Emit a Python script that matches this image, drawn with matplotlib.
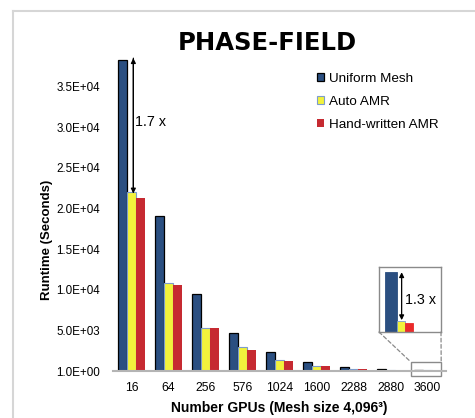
import matplotlib
matplotlib.use("Agg")
import matplotlib.pyplot as plt
from matplotlib.patches import Rectangle, ConnectionPatch
from matplotlib.lines import Line2D
import numpy as np

plt.rcParams['font.family'] = ['Liberation Sans', 'DejaVu Sans']

# data
gpus = ["16", "64", "256", "576", "1024", "1600", "2288", "2880", "3600"]
uniform_mesh = [38300, 19100, 9480, 4680, 2340, 1110, 500, 210, 160]
auto_amr = [22000, 10840, 5300, 2950, 1350, 620, 300, 140, 123]
hand_amr = [21300, 10590, 5250, 2590, 1230, 600, 200, 130, 121]
series_names = ["Uniform Mesh", "Auto AMR", "Hand-written AMR"]
ytick_vals = [0, 5000, 10000, 15000, 20000, 25000, 30000, 35000]
ytick_labels = ["1.0E+00", "5.0E+03", "1.0E+04", "1.5E+04", "2.0E+04",
                "2.5E+04", "3.0E+04", "3.5E+04"]

c_blue = "#2b4f81"
c_yellow = "#f2f23c"
c_red = "#c62a31"
W, H = 475, 418

fig = plt.figure(figsize=(4.75, 4.18), dpi=100)

# light frame around the chart area
fig.add_artist(Line2D([13 / W, 1.0], [1 - 11 / H, 1 - 11 / H], color="#d6d6d6", lw=1.5))
fig.add_artist(Line2D([13 / W, 13 / W], [0.0, 1 - 11 / H], color="#d6d6d6", lw=1.5))

ax = fig.add_axes([113 / W, 47 / H, 333 / W, 325 / H])
x = np.arange(len(gpus))
bw = 0.25
b1 = ax.bar(x - bw, uniform_mesh, bw, color=c_blue, edgecolor="black", linewidth=0.9, label=series_names[0])
b2 = ax.bar(x, auto_amr, bw, color=c_yellow, edgecolor="#7d9ccc", linewidth=0.8, label=series_names[1])
b3 = ax.bar(x + bw, hand_amr, bw, color=c_red, linewidth=0, label=series_names[2])

ax.set_xlim(-0.5, len(gpus) - 0.5)
ax.set_ylim(0, 40000)
ax.set_xticks(x)
ax.set_xticklabels(gpus, fontsize=8.7)
ax.set_yticks(ytick_vals)
ax.set_yticklabels(ytick_labels, fontsize=8.4)
ax.tick_params(axis="both", length=0)
ax.tick_params(axis="y", pad=9.5)
ax.tick_params(axis="x", pad=8)
for s in ["top", "right", "left"]:
    ax.spines[s].set_visible(False)
ax.spines["bottom"].set_color("#b4b4b4")
ax.spines["bottom"].set_linewidth(1.5)

ax.set_xlabel("Number GPUs (Mesh size 4,096³)", fontsize=10, fontweight="bold", labelpad=5)
fig.text(47 / W, 1 - 240 / H, "Runtime (Seconds)", rotation=90, fontsize=9.5,
         fontweight="bold", ha="center", va="center")

fig.text(267 / W, 1 - 43 / H, "PHASE-FIELD", fontsize=17.5, fontweight="bold",
         family="DejaVu Sans", ha="center", va="center")

# 1.7x arrow on first group
ax.annotate("", xy=(0.05, auto_amr[0] - 150), xytext=(0.05, uniform_mesh[0] + 200),
            arrowprops=dict(arrowstyle="-|>", color="black", lw=0.9,
                            mutation_scale=7, shrinkA=0, shrinkB=0))
ax.annotate("", xy=(0.05, uniform_mesh[0] + 200), xytext=(0.05, auto_amr[0]),
            arrowprops=dict(arrowstyle="-|>", color="black", lw=0.9,
                            mutation_scale=7, shrinkA=0, shrinkB=0))
ax.text(0.1, 30600, "1.7 x", fontsize=10.3, va="center", ha="left")

ax.legend(handles=[b1, b2, b3], loc="upper left", bbox_to_anchor=(317 / W, 1 - 73 / H),
          bbox_transform=fig.transFigure, frameon=False, fontsize=9.7,
          handlelength=0.55, handleheight=0.55, handletextpad=0.35,
          labelspacing=0.82, borderpad=0, borderaxespad=0)

# zoom box around the last group
last = len(gpus) - 1
ax.add_patch(Rectangle((last - 0.45, -620), 0.82, 1730, fill=False,
                       edgecolor="#8a8a8a", lw=1.0, clip_on=False))

# inset with the last group enlarged
ins = fig.add_axes([379 / W, 1 - 332 / H, 62 / W, 65 / H])
ins.bar([0, 1.1, 2.0], [uniform_mesh[last], auto_amr[last], hand_amr[last]],
        [1.3, 0.9, 0.9], color=[c_blue, c_yellow, "#ea2a2a"],
        edgecolor=[c_blue, "#7d9ccc", "#ea2a2a"], linewidth=0.6)
ins.set_xlim(-1.3, 5.6)
ins.set_ylim(114.5, 164)
ins.set_xticks([])
ins.set_yticks([])
for s in ins.spines.values():
    s.set_color("#8a8a8a")
    s.set_linewidth(1.0)
ins.annotate("", xy=(1.22, auto_amr[last] + 0.5), xytext=(1.22, uniform_mesh[last]),
             arrowprops=dict(arrowstyle="<|-|>", color="black", lw=0.9,
                             mutation_scale=7, shrinkA=0, shrinkB=0))
ins.text(1.55, 138.5, "1.3 x", fontsize=10.3, va="center", ha="left")

for xa, xb in [(0, last - 0.45), (1, last + 0.37)]:
    con = ConnectionPatch(xyA=(xa, 0), coordsA=ins.transAxes,
                          xyB=(xb, 1110), coordsB=ax.transData,
                          color="#8a8a8a", lw=0.9, linestyle=(0, (3, 2)))
    fig.add_artist(con)

plt.savefig("out.png", dpi=100)
